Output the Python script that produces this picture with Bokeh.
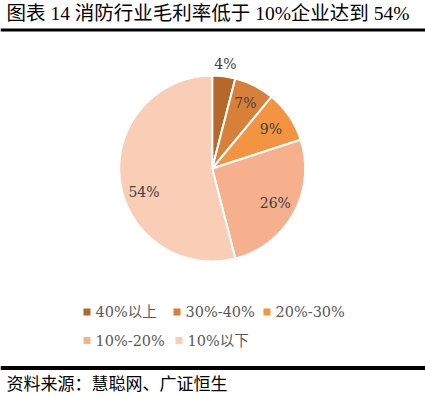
import math
from bokeh.plotting import figure
from bokeh.models import Range1d, ColumnDataSource
from bokeh.core.properties import value
from bokeh.embed import file_html
from bokeh.resources import INLINE

# ---- data ----
title_text = "图表 14 消防行业毛利率低于 10%企业达到 54%"
source_text = "资料来源：慧聪网、广证恒生"
categories = ["40%以上", "30%-40%", "20%-30%", "10%-20%", "10%以下"]
values = [4, 7, 9, 26, 54]
colors = ["#B5672C", "#D8803A", "#F29441", "#F6B08D", "#F9CDB6"]

# ---- layout ----
W, H = 425, 397
p = figure(width=W, height=H, output_backend="svg", toolbar_location=None,
           x_range=Range1d(0, W), y_range=Range1d(-H, 0),
           min_border=0, outline_line_color=None)
p.axis.visible = False
p.grid.visible = False
p.background_fill_color = "white"
p.border_fill_color = "white"

SERIF_CJK = "'DejaVu Serif', 'Noto Sans CJK SC'"
TITLE_FONT = "'Liberation Serif', 'Noto Sans CJK SC'"

# title and rules
p.text(x=[6], y=[-12.5], text=[title_text], text_font=value(TITLE_FONT),
       text_font_size="19.5px", text_color="#000000", text_baseline="middle",
       text_align="left")
p.segment(x0=[0], y0=[-29.5], x1=[W], y1=[-29.5], line_color="black", line_width=3)
p.segment(x0=[0], y0=[-367.5], x1=[W], y1=[-367.5], line_color="black", line_width=4)
p.text(x=[6], y=[-383.5], text=[source_text], text_font=value(TITLE_FONT),
       text_font_size="17px", text_color="#000000", text_baseline="middle",
       text_align="left")

# pie
cx, cy, R = 211.7, -168.0, 93
total = float(sum(values))
starts, ends, mids = [], [], []
acc = 0.0
for v in values:
    a0 = math.pi / 2 - acc / total * 2 * math.pi
    acc += v
    a1 = math.pi / 2 - acc / total * 2 * math.pi
    starts.append(a0)
    ends.append(a1)
    mids.append((a0 + a1) / 2)

src = ColumnDataSource(dict(start=starts, end=ends, color=colors, cat=categories))
p.wedge(x=cx, y=cy, radius=R, radius_units="screen", start_angle="start",
        end_angle="end", direction="clock", fill_color="color",
        line_color="white", line_width=2, source=src)

label_r = [105, 73, 71, 72, 72]
label_shift = [0, 0, 0, 0, 0.2]
lx = [cx + r * math.cos(m + s) for r, m, s in zip(label_r, mids, label_shift)]
ly = [cy + r * math.sin(m + s) for r, m, s in zip(label_r, mids, label_shift)]
p.text(x=lx, y=ly, text=[f"{v}%" for v in values], text_font=value("DejaVu Serif"),
       text_font_size="14px", text_color="#404040", text_align="center",
       text_baseline="middle")

# legend
leg_x = [83, 173, 263, 83, 175]
leg_y = [-311.5, -311.5, -311.5, -340, -340]
p.scatter(x=[x + 3.5 for x in leg_x], y=leg_y, marker="square", size=7,
          fill_color=colors, line_color=None)
p.text(x=[x + 12 for x in leg_x], y=leg_y, text=categories,
       text_font=value(SERIF_CJK), text_font_size="14.5px", text_color="#595959",
       text_baseline="middle", text_align="left")

open("out.html", "w").write(file_html(p, INLINE))
